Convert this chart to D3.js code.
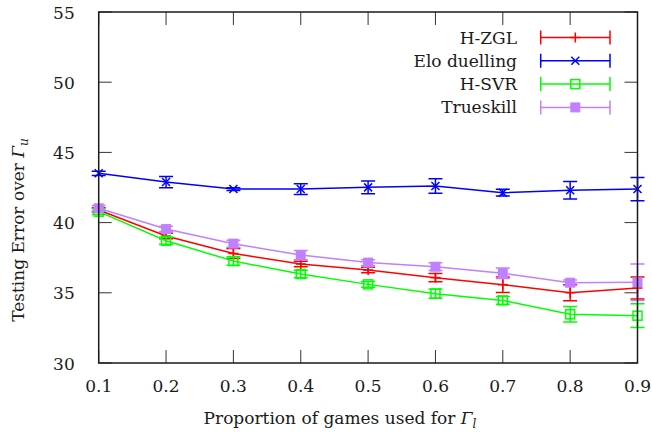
<!DOCTYPE html>
<html>
<head>
<meta charset="utf-8">
<script src="https://cdn.jsdelivr.net/npm/d3@7"></script>
<style>
  body { margin: 0; background: #fff; }
  text { font-family: "DejaVu Serif", "Liberation Serif", serif; fill: #1a1a1a; }
</style>
</head>
<body>
<div id="viz"></div>
<script>
// data
var proportions = [0.1, 0.2, 0.3, 0.4, 0.5, 0.6, 0.7, 0.8, 0.9];
var hzgl      = [40.90, 39.05, 37.80, 37.05, 36.62, 36.08, 35.58, 35.01, 35.34];
var hzglErr   = [0.15, 0.20, 0.35, 0.20, 0.20, 0.30, 0.55, 0.57, 0.78];
var elo       = [43.51, 42.89, 42.39, 42.39, 42.51, 42.61, 42.13, 42.30, 42.39];
var eloErr    = [0.15, 0.40, 0.10, 0.38, 0.45, 0.52, 0.24, 0.62, 0.83];
var hsvr      = [40.78, 38.71, 37.26, 36.34, 35.60, 34.94, 34.46, 33.47, 33.37];
var hsvrErr   = [0.20, 0.25, 0.30, 0.26, 0.20, 0.33, 0.28, 0.55, 0.85];
var trueskill = [41.02, 39.54, 38.50, 37.69, 37.15, 36.86, 36.39, 35.72, 35.75];
var trueskillErr = [0.20, 0.20, 0.25, 0.33, 0.20, 0.28, 0.38, 0.20, 1.30];
var yTicks = [30, 35, 40, 45, 50, 55];

var seriesNames = ["H-ZGL", "Elo duelling", "H-SVR", "Trueskill"];

var W = 652, H = 435;
var margin = {top: 12, right: 14.5, bottom: 72, left: 98.7};
var width = W - margin.left - margin.right,
    height = H - margin.top - margin.bottom;

var svg = d3.select("#viz").append("svg")
  .attr("width", W).attr("height", H);
var g = svg.append("g")
  .attr("transform", "translate(" + margin.left + "," + margin.top + ")");

var x = d3.scaleLinear().domain([0.1, 0.9]).range([0, width]);
var y = d3.scaleLinear().domain([30, 55]).range([height, 0]);

var tickLen = 13;
var fs = "17px";

// ticks, gnuplot style (mirrored inside the frame)
var axisG = g.append("g").attr("stroke", "#333").attr("stroke-width", 1);
proportions.forEach(function(p) {
  axisG.append("line").attr("x1", x(p)).attr("x2", x(p)).attr("y1", height).attr("y2", height - tickLen);
  axisG.append("line").attr("x1", x(p)).attr("x2", x(p)).attr("y1", 0).attr("y2", tickLen);
});
yTicks.forEach(function(t) {
  axisG.append("line").attr("x1", 0).attr("x2", tickLen).attr("y1", y(t)).attr("y2", y(t));
  axisG.append("line").attr("x1", width).attr("x2", width - tickLen).attr("y1", y(t)).attr("y2", y(t));
});

// tick labels
g.selectAll(".xlab").data(proportions).enter().append("text")
  .attr("x", function(d) { return x(d); })
  .attr("y", height + 29)
  .attr("text-anchor", "middle")
  .style("font-size", fs)
  .text(function(d) { return d3.format(".1f")(d); });
g.selectAll(".ylab").data(yTicks).enter().append("text")
  .attr("x", -24)
  .attr("y", function(d) { return y(d) + 6.5; })
  .attr("text-anchor", "end")
  .style("font-size", fs)
  .text(function(d) { return d; });

// axis titles
var xt = svg.append("text")
  .attr("x", 340).attr("y", 424)
  .attr("text-anchor", "middle")
  .style("font-size", fs);
xt.append("tspan").text("Proportion of games used for ");
xt.append("tspan").style("font-style", "italic").text("Γ");
xt.append("tspan").style("font-style", "italic").style("font-size", "12px").attr("dy", 4).text("l");

var yt = svg.append("text")
  .attr("transform", "translate(24," + 230 + ") rotate(-90)")
  .attr("text-anchor", "middle")
  .style("font-size", fs);
yt.append("tspan").text("Testing Error over ");
yt.append("tspan").style("font-style", "italic").text("Γ");
yt.append("tspan").style("font-style", "italic").style("font-size", "12px").attr("dy", 4).text("u");

// series
var series = [
  {name: seriesNames[0], vals: hzgl, errs: hzglErr, color: "#ff0000", mark: "plus"},
  {name: seriesNames[1], vals: elo, errs: eloErr, color: "#0000ff", mark: "cross"},
  {name: seriesNames[2], vals: hsvr, errs: hsvrErr, color: "#00ff00", mark: "square"},
  {name: seriesNames[3], vals: trueskill, errs: trueskillErr, color: "#c080ff", mark: "fsquare"}
];

var capW = 7;
var line = d3.line().x(function(d) { return x(d.p); }).y(function(d) { return y(d.v); });

function drawMark(sel, type, cx, cy, color) {
  if (type === "plus") {
    sel.append("line").attr("x1", cx).attr("x2", cx).attr("y1", cy - 5).attr("y2", cy + 5)
      .attr("stroke", color).attr("stroke-width", 1.5);
    sel.append("line").attr("x1", cx - 5).attr("x2", cx + 5).attr("y1", cy).attr("y2", cy)
      .attr("stroke", color).attr("stroke-width", 1.5);
  } else if (type === "cross") {
    sel.append("path").attr("d", "M" + (cx - 4) + "," + (cy - 4) + "L" + (cx + 4) + "," + (cy + 4) +
        "M" + (cx - 4) + "," + (cy + 4) + "L" + (cx + 4) + "," + (cy - 4))
      .attr("stroke", color).attr("stroke-width", 1.5);
  } else if (type === "square") {
    sel.append("rect").attr("x", cx - 4.5).attr("y", cy - 4.5).attr("width", 9).attr("height", 9)
      .attr("fill", "none").attr("stroke", color).attr("stroke-width", 1.5);
  } else {
    sel.append("rect").attr("x", cx - 5).attr("y", cy - 5).attr("width", 10).attr("height", 10)
      .attr("fill", color);
  }
}

var plotG = g.append("g");
series.forEach(function(s) {
  var pts = proportions.map(function(p, i) { return {p: p, v: s.vals[i], e: s.errs[i]}; });
  var sg = plotG.append("g");
  sg.append("path").datum(pts)
    .attr("fill", "none").attr("stroke", s.color).attr("stroke-width", 1.5)
    .attr("d", line);
  pts.forEach(function(d) {
    var cx = x(d.p), y0 = y(d.v - d.e), y1 = y(d.v + d.e);
    sg.append("path")
      .attr("d", "M" + cx + "," + y0 + "L" + cx + "," + y1 +
                 "M" + (cx - capW) + "," + y0 + "L" + (cx + capW) + "," + y0 +
                 "M" + (cx - capW) + "," + y1 + "L" + (cx + capW) + "," + y1)
      .attr("fill", "none").attr("stroke", s.color).attr("stroke-width", 1.5);
    drawMark(sg, s.mark, cx, y(d.v), s.color);
  });
});

// frame
g.append("rect").attr("width", width).attr("height", height)
  .attr("fill", "none").attr("stroke", "#1a1a1a").attr("stroke-width", 1.5);

// legend
var leg = svg.append("g");
series.forEach(function(s, i) {
  var ly = 37.5 + i * 23.3;
  leg.append("text").attr("x", 517).attr("y", ly + 6).attr("text-anchor", "end")
    .style("font-size", fs).text(s.name);
  leg.append("path")
    .attr("d", "M540.7," + ly + "L610," + ly +
               "M540.7," + (ly - 7) + "L540.7," + (ly + 7) +
               "M610," + (ly - 7) + "L610," + (ly + 7))
    .attr("fill", "none").attr("stroke", s.color).attr("stroke-width", 1.5);
  drawMark(leg, s.mark, 575.3, ly, s.color);
});
</script>
</body>
</html>
